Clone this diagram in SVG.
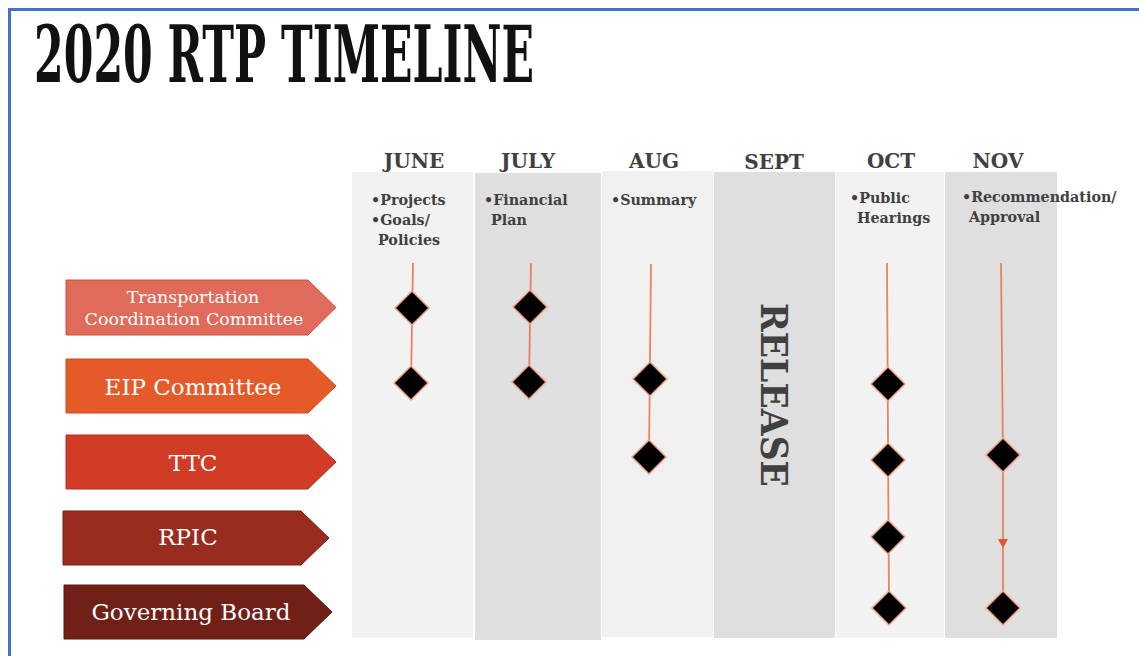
<svg xmlns="http://www.w3.org/2000/svg" width="1139" height="656" viewBox="0 0 1139 656">
<defs>
<style>
.col-l{fill:#f2f2f2}
.col-d{fill:#dfdfdf}
.month{font-family:"DejaVu Serif",serif;font-weight:bold;font-size:20px;fill:#404040;text-anchor:middle}
.note{font-family:"DejaVu Serif",serif;font-weight:bold;font-size:14.3px;fill:#404040}
.lbl{font-family:"DejaVu Serif",serif;fill:#ffffff;text-anchor:middle}
.conn{stroke:#e5714b;stroke-width:1.8;fill:none;stroke-opacity:0.85}
.dia{fill:#000000;stroke:#f3a484;stroke-width:1.5}
</style>
<symbol id="d" overflow="visible"><path class="dia" d="M0,-17 L17,0 L0,17 L-17,0 z"/></symbol>
</defs>
<rect x="0" y="0" width="1139" height="656" fill="#ffffff"/>
<rect x="9.5" y="9.5" width="1200" height="1000" fill="none" stroke="#4472c4" stroke-width="3"/>
<text id="title" x="34" y="82" font-family="'DejaVu Serif',serif" font-weight="bold" font-size="78" fill="#111111" textLength="500" lengthAdjust="spacingAndGlyphs">2020 RTP TIMELINE</text>

<g id="columns">
<rect id="col-june" class="col-l" x="352" y="172" width="121" height="466"/>
<rect id="col-july" class="col-d" x="475" y="173" width="126" height="467"/>
<rect id="col-aug" class="col-l" x="602" y="171" width="111" height="466" style="fill:#f0f0f0"/>
<rect id="col-sept" class="col-d" x="714" y="172" width="121" height="466"/>
<rect id="col-oct" class="col-l" x="836" y="172" width="108" height="466"/>
<rect id="col-nov" class="col-d" x="945" y="172" width="112" height="466"/>
</g>

<g id="months">
<text class="month" x="414" y="168">JUNE</text>
<text class="month" x="528" y="168">JULY</text>
<text class="month" x="654" y="168">AUG</text>
<text class="month" x="774" y="169">SEPT</text>
<text class="month" x="891" y="168">OCT</text>
<text class="month" x="998" y="168">NOV</text>
</g>

<g id="notes">
<text class="note" x="371" y="205">•Projects</text>
<text class="note" x="371" y="225">•Goals/</text>
<text class="note" x="378" y="245">Policies</text>
<text class="note" x="484" y="205">•Financial</text>
<text class="note" x="491" y="225">Plan</text>
<text class="note" x="611" y="205">•Summary</text>
<text class="note" x="850" y="203">•Public</text>
<text class="note" x="857" y="223">Hearings</text>
<text class="note" x="962" y="202">•Recommendation/</text>
<text class="note" x="969" y="222">Approval</text>
</g>

<text id="release" x="0" y="0" transform="translate(761,395) rotate(90)" font-family="'DejaVu Serif',serif" font-weight="bold" font-size="37" fill="#404040" text-anchor="middle" textLength="184" lengthAdjust="spacingAndGlyphs">RELEASE</text>

<g id="node-tcc">
<path d="M66,280 L308,280 L336,307.5 L308,335 L66,335 z" fill="#e06b5a" stroke="#c9503f" stroke-width="1"/>
<text class="lbl" x="193" y="303" font-size="17.5">Transportation</text>
<text class="lbl" x="194" y="325" font-size="17.5">Coordination Committee</text>
</g>
<g id="node-eip">
<path d="M66,359 L308,359 L336,386 L308,413 L66,413 z" fill="#e55a28" stroke="#c94a20" stroke-width="1"/>
<text class="lbl" x="193" y="395" font-size="23">EIP Committee</text>
</g>
<g id="node-ttc">
<path d="M66,435 L308,435 L336,462 L308,489 L66,489 z" fill="#d13c27" stroke="#b03020" stroke-width="1"/>
<text class="lbl" x="193" y="471" font-size="23">TTC</text>
</g>
<g id="node-rpic">
<path d="M63,511 L301,511 L329,538 L301,565 L63,565 z" fill="#992b1f" stroke="#7a2016" stroke-width="1"/>
<text class="lbl" x="188" y="545" font-size="23">RPIC</text>
</g>
<g id="node-gb">
<path d="M64,585 L304,585 L332,612 L304,639 L64,639 z" fill="#712018" stroke="#581810" stroke-width="1"/>
<text class="lbl" x="191" y="620" font-size="23">Governing Board</text>
</g>

<g id="connectors">
<path class="conn" d="M413,263 L411,383"/>
<path class="conn" d="M531,263 L529,382"/>
<path class="conn" d="M651,264 L649,457"/>
<path class="conn" d="M887,263 L889,608"/>
<path class="conn" d="M1001,263 L1003,455"/>
<path class="conn" d="M1003,472 L1003,543"/>
<path class="conn" d="M1003,540 L1003,592"/>
<path d="M998,539 L1008,539 L1003,548 z" fill="#e2572a"/>
</g>

<g id="milestones">
<use id="m-june-1" href="#d" x="412" y="308"/>
<use id="m-june-2" href="#d" x="411" y="383"/>
<use id="m-july-1" href="#d" x="530" y="307"/>
<use id="m-july-2" href="#d" x="529" y="382"/>
<use id="m-aug-1" href="#d" x="650" y="379"/>
<use id="m-aug-2" href="#d" x="649" y="457"/>
<use id="m-oct-1" href="#d" x="888" y="384"/>
<use id="m-oct-2" href="#d" x="888" y="460"/>
<use id="m-oct-3" href="#d" x="888" y="537"/>
<use id="m-oct-4" href="#d" x="889" y="608"/>
<use id="m-nov-1" href="#d" x="1003" y="455"/>
<use id="m-nov-2" href="#d" x="1003" y="608"/>
</g>
</svg>
